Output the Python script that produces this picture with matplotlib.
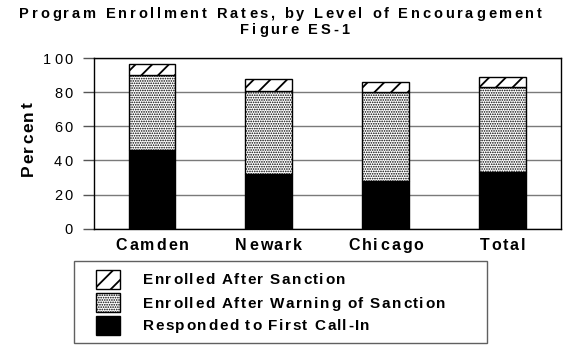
import matplotlib
matplotlib.use("Agg")
import matplotlib.pyplot as plt
from matplotlib.patches import Rectangle
from matplotlib.transforms import IdentityTransform
from matplotlib.font_manager import FontProperties, findfont
from matplotlib.ft2font import FT2Font
import numpy as np

FAMILY = 'Liberation Sans'
plt.rcParams['font.family'] = [FAMILY, 'DejaVu Sans']
plt.rcParams['hatch.linewidth'] = 1.3

sites = ["Camden", "Newark", "Chicago", "Total"]
first_call_in = [46, 32, 28, 33]
after_warning = [44, 49, 52, 50]
after_sanction = [7, 7, 6, 6]
y_ticks = [0, 20, 40, 60, 80, 100]

title = "Program Enrollment Rates, by Level of Encouragement"
subtitle = "Figure ES-1"
y_label = "Percent"
legend_labels = ["Enrolled After Sanction",
                 "Enrolled After Warning of Sanction",
                 "Responded to First Call-In"]

DPI = 100
W, H = 576, 350
fig = plt.figure(figsize=(W / DPI, H / DPI), dpi=DPI)
PX = IdentityTransform()

AX_L, AX_R, AX_T, AX_B = 93.5, 561.0, 58.5, 228.5
ax = fig.add_axes([AX_L / W, 1 - AX_B / H, (AX_R - AX_L) / W, (AX_B - AX_T) / H])

DIAG = '//'
DOTS = '.......'
DOT_LW = 0.8
DIAG_LW = 1.3


def set_hatch_lw(artist, lw):
    if hasattr(artist, 'set_hatch_linewidth'):
        artist.set_hatch_linewidth(lw)
    else:
        artist._hatch_linewidth = lw


def advances(s, size, weight):
    path = findfont(FontProperties(family=FAMILY, weight=weight))
    font = FT2Font(path)
    font.set_size(size, DPI)
    return [font.load_char(ord(c)).linearHoriAdvance / 65536 for c in s]


def spaced(s, size, weight, track):
    adv = advances(s, size, weight)
    offs = np.concatenate([[0], np.cumsum(np.array(adv) + track)[:-1]])
    width = sum(adv) + track * (len(s) - 1)
    return offs, width


def fit_track(s, size, weight, width):
    adv = advances(s, size, weight)
    return (width - sum(adv)) / (len(s) - 1)


def draw_spaced(s, x, y, size, weight, track, ha='left', vertical=False, color='black'):
    """Draw letter-spaced text; x, y in pixels from the top-left, y at the baseline."""
    offs, width = spaced(s, size, weight, track)
    shift = {'left': 0, 'center': -width / 2, 'right': -width}[ha]
    for c, o in zip(s, offs):
        if c == ' ':
            continue
        if vertical:
            px, py = round(x), round((H - y) + o + shift)
            rot = 90
        else:
            px, py = round(x + o + shift), round(H - y)
            rot = 0
        fig.text(px, py, c, transform=PX, fontsize=size, fontweight=weight,
                 family=FAMILY, ha='left', va='baseline', rotation=rot,
                 rotation_mode='anchor', color=color)


# stacked bars
x = np.arange(len(sites))
bw = 0.4
bottom2 = np.array(first_call_in)
bottom3 = bottom2 + np.array(after_warning)

ax.set_axisbelow(True)
ax.yaxis.grid(True, color='#7a7a7a', linewidth=1.0)
ax.bar(x, first_call_in, bw, color='black', edgecolor='black', linewidth=1.0)
mid = ax.bar(x, after_warning, bw, bottom=bottom2, facecolor='white', edgecolor='black',
             hatch=DOTS, linewidth=1.0)
top = ax.bar(x, after_sanction, bw, bottom=bottom3, facecolor='white', edgecolor='black',
             hatch=DIAG, linewidth=1.0)
for p in mid:
    set_hatch_lw(p, DOT_LW)
for p in top:
    set_hatch_lw(p, DIAG_LW)

ax.set_xlim(-0.5, 3.5)
ax.set_ylim(0, 100)
ax.set_yticks(y_ticks)
ax.set_xticks(x)
ax.set_xticklabels([])
ax.set_yticklabels([])
ax.tick_params(axis='x', length=0)
ax.tick_params(axis='y', length=8, width=1, direction='out', color='#555555')
for s in ax.spines.values():
    s.set_color('black')
    s.set_linewidth(1.0)

# title
t_size = 10.5
t_track = fit_track(title, t_size, 'bold', 542 - 19)
draw_spaced(title, 19, 18.5, t_size, 'bold', t_track)
draw_spaced(subtitle, 240, 33.5, t_size, 'bold', t_track)

# y tick labels
to_px_y = lambda v: AX_B - (AX_B - AX_T) * v / 100.0
for v in y_ticks:
    draw_spaced(str(v), 72, to_px_y(v) + 5, 10.5, 'normal', 2.2, ha='right')

# y axis label
draw_spaced(y_label, 33, 176, 12.5, 'bold', 1.6, vertical=True)

# category labels
c_size = 11.5
c_track = fit_track("Camden", c_size, 'bold', 188 - 115)
for i, name in enumerate(sites):
    cx = ax.transData.transform((i, 0))[0]
    draw_spaced(name, cx, 249.5, c_size, 'bold', c_track, ha='center')

# legend
fig.patches.append(Rectangle((73.5, H - 343), 413, 82, transform=PX, facecolor='white',
                             edgecolor='#606060', linewidth=1.0, zorder=1))
keys = [(dict(facecolor='white', hatch=DIAG), DIAG_LW),
        (dict(facecolor='white', hatch=DOTS), DOT_LW),
        (dict(facecolor='black', hatch=None), DIAG_LW)]
rows_top = [270, 293, 316]
baselines = [284.5, 307.5, 330.5]
l_size = 11
l_track = fit_track(legend_labels[1], l_size, 'bold', 445 - 143)
for (key, hlw), rtop, base, lab in zip(keys, rows_top, baselines, legend_labels):
    r = Rectangle((96, H - rtop - 19), 24, 19, transform=PX,
                  edgecolor='black', linewidth=1.0, zorder=2, **key)
    set_hatch_lw(r, hlw)
    fig.patches.append(r)
    draw_spaced(lab, 143, base, l_size, 'bold', l_track)

fig.savefig("out.png", dpi=DPI)
